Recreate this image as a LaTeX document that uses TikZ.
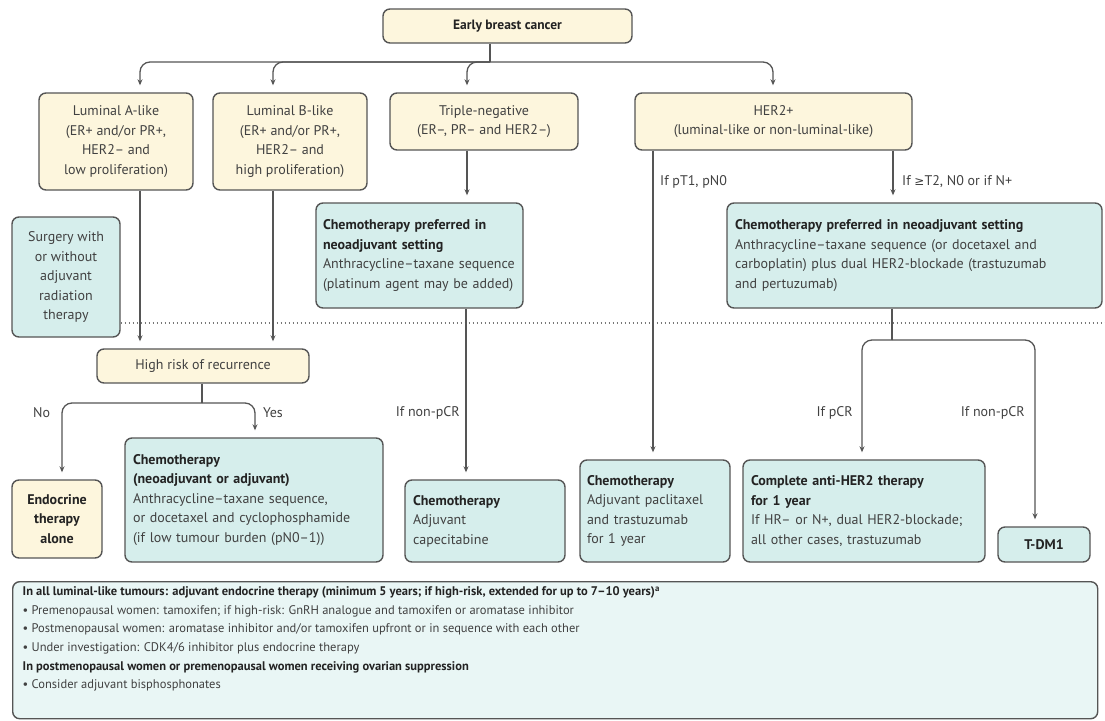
\documentclass[tikz,border=0pt]{standalone}
\usepackage{fontspec}
\setmainfont{PT Sans}
\newfontfamily\symfont{DejaVu Sans}
\usetikzlibrary{arrows.meta,calc}
\definecolor{cream}{RGB}{253,246,221}
\definecolor{tealf}{RGB}{214,238,236}
\definecolor{lteal}{RGB}{233,246,245}
\definecolor{bord}{RGB}{85,85,85}
\definecolor{txt}{RGB}{65,65,65}
\definecolor{hdc}{RGB}{35,35,35}
\newcommand\hdr[1]{{\bfseries\color{hdc}#1}}
\tikzset{
 box/.style={draw=bord, line width=1.4pt, rounded corners=7pt, inner sep=0pt, font=\fontsize{14}{19.5}\selectfont, text=txt},
 cbox/.style={box, fill=cream, align=center},
 tbox/.style={box, fill=tealf, align=left},
 conn/.style={draw=bord, line width=1.3pt, rounded corners=10pt},
 arr/.style={conn, -{Stealth[length=6pt,width=5pt]}, shorten >=7pt},
 lbl/.style={font=\fontsize{14}{16}\selectfont, text=txt, inner sep=0pt},
}
\begin{document}
\begin{tikzpicture}[x=1pt,y=-1pt]
\useasboundingbox (0,0) rectangle (1105,720);
% top
\node[cbox, font=\fontsize{13.5}{18}\selectfont, minimum width=249pt, minimum height=34pt] (early) at (507.5,26) {\hdr{Early breast cancer}};
\node[cbox, minimum width=154pt, minimum height=97pt] (lumA) at (116,141.5) {Luminal A-like\\(ER+ and/or PR+,\\HER2– and\\low proliferation)};
\node[cbox, minimum width=154pt, minimum height=97pt] (lumB) at (290,141.5) {Luminal B-like\\(ER+ and/or PR+,\\HER2– and\\high proliferation)};
\node[cbox, minimum width=188pt, minimum height=57pt] (tn) at (484,121.5) {Triple-negative\\(ER–, PR– and HER2–)};
\node[cbox, minimum width=277pt, minimum height=57pt] (her2) at (773.5,121.5) {HER2+\\(luminal-like or non-luminal-like)};
% middle
\node[tbox, align=center, minimum width=108pt, minimum height=120pt] (surg) at (66,277) {Surgery with\\or without\\adjuvant\\radiation\\therapy};
\node[tbox, text width=193pt, minimum width=207pt, minimum height=105pt] (tnchemo) at (419.5,255.5) {\hdr{Chemotherapy preferred in}\\\hdr{neoadjuvant setting}\\Anthracycline–taxane sequence\\(platinum agent may be added)};
\node[tbox, text width=359pt, minimum width=375pt, minimum height=105pt] (her2chemo) at (914.5,255.5) {\hdr{Chemotherapy preferred in neoadjuvant setting}\\Anthracycline–taxane sequence (or docetaxel and\\carboplatin) plus dual HER2-blockade (trastuzumab\\and pertuzumab)};
\draw[bord!80, line width=1.3pt, dash pattern=on 1.4pt off 2.6pt] (surg.east |- 0,323) -- (1105,323);
\node[cbox, minimum width=212pt, minimum height=34pt] (hr) at (203,366) {High risk of recurrence};
% bottom row
\node[cbox, minimum width=90pt, minimum height=78pt] (endo) at (57,519) {\hdr{Endocrine}\\\hdr{therapy}\\\hdr{alone}};
\node[tbox, text width=242pt, minimum width=258pt, minimum height=124pt] (chemoneo) at (254,500) {\hdr{Chemotherapy}\\\hdr{(neoadjuvant or adjuvant)}\\Anthracycline–taxane sequence,\\or docetaxel and cyclophosphamide\\(if low tumour burden (pN0–1))};
\node[tbox, text width=144pt, minimum width=160pt, minimum height=82pt] (cape) at (485,521) {\hdr{Chemotherapy}\\Adjuvant\\capecitabine};
\node[tbox, text width=136pt, minimum width=150pt, minimum height=102pt] (pacli) at (655,511) {\hdr{Chemotherapy}\\Adjuvant paclitaxel\\and trastuzumab\\for 1 year};
\node[tbox, text width=226pt, minimum width=242pt, minimum height=102pt] (antiher2) at (864,511) {\hdr{Complete anti-HER2 therapy}\\\hdr{for 1 year}\\If HR– or N+, dual HER2-blockade;\\all other cases, trastuzumab};
\node[tbox, align=center, minimum width=92pt, minimum height=35pt] (tdm1) at (1044,544.5) {\hdr{T-DM1}};
\node[box, fill=lteal, anchor=north west, inner xsep=10pt, inner ysep=5pt, font=\fontsize{12.5}{18.6}\selectfont] (bot) at (12,581) {\begin{minipage}[t][127pt][t]{1065pt}\raggedright
\hdr{In all luminal-like tumours: adjuvant endocrine therapy (minimum 5 years; if high-risk, extended for up to 7–10 years)\textsuperscript{a}}\\
• Premenopausal women: tamoxifen; if high-risk: GnRH analogue and tamoxifen or aromatase inhibitor\\
• Postmenopausal women: aromatase inhibitor and/or tamoxifen upfront or in sequence with each other\\
• Under investigation: CDK4/6 inhibitor plus endocrine therapy\\
\hdr{In postmenopausal women or premenopausal women receiving ovarian suppression}\\
• Consider adjuvant bisphosphonates\end{minipage}};
% junctions
\coordinate (j1) at (490,62);
\coordinate (j2) at (202,403);
\coordinate (j3) at (892,340);
% connectors
\draw[conn] (490,0 |- early.south) -- (j1);
\draw[arr] (j1) -- (140,62) -- (140,0 |- lumA.north);
\draw[arr] (j1) -- (273,62) -- (273,0 |- lumB.north);
\draw[arr] (j1) -- (467,62) -- (467,0 |- tn.north);
\draw[arr] (j1) -- (773,62) -- (773,0 |- her2.north);
\draw[arr] (140,0 |- lumA.south) -- (140,0 |- hr.north);
\draw[arr] (273,0 |- lumB.south) -- (273,0 |- hr.north);
\draw[conn] (202,0 |- hr.south) -- (j2);
\draw[arr] (j2) -- (62,403) -- (62,0 |- endo.north);
\draw[arr] (j2) -- (255,403) -- (255,0 |- chemoneo.north);
\draw[arr] (467,0 |- tn.south) -- (467,0 |- tnchemo.north);
\draw[arr] (466,0 |- tnchemo.south) -- (466,0 |- cape.north);
\draw[arr] (653,0 |- her2.south) -- (653,0 |- pacli.north);
\draw[arr] (893,0 |- her2.south) -- (893,0 |- her2chemo.north);
\draw[conn] (892,0 |- her2chemo.south) -- (j3);
\draw[arr] (j3) -- (862,340) -- (862,0 |- antiher2.north);
\draw[arr] (j3) -- (1035,340) -- (1035,0 |- tdm1.north);
% labels
\node[lbl, anchor=west] (l1) at (660,182) {If pT1, pN0};
\node[lbl, anchor=west] (l2) at (902,182) {If {\symfont\fontsize{12}{14}\selectfont ≥}T2, N0 or if N+};
\node[lbl, anchor=west] (l3) at (33,413) {No};
\node[lbl, anchor=west] (l4) at (263,413) {Yes};
\node[lbl, anchor=east] (l5) at (460,413) {If non-pCR};
\node[lbl, anchor=east] (l6) at (853,413) {If pCR};
\node[lbl, anchor=east] (l7) at (1025,413) {If non-pCR};
\end{tikzpicture}
\end{document}
